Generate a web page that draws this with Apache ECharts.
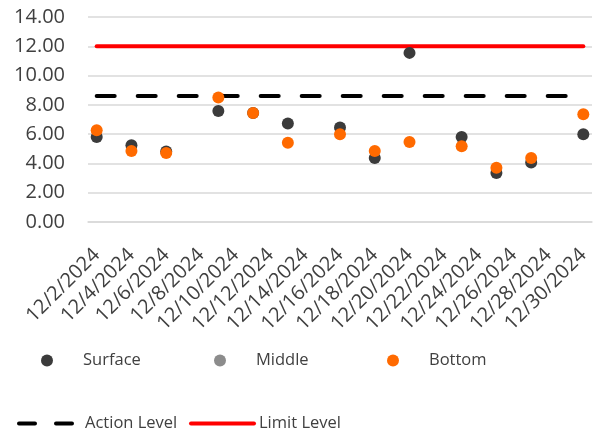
<!DOCTYPE html>
<html>
<head>
<meta charset="utf-8">
<script src="https://cdn.jsdelivr.net/npm/echarts@6/dist/echarts.min.js"></script>
<style>
html, body { margin: 0; padding: 0; background: #fff; }
#main { width: 593px; height: 433px; }
</style>
</head>
<body>
<div id="main"></div>
<script>
// axis days (labels shown every other day)
var days = ['12/2/2024','12/3/2024','12/4/2024','12/5/2024','12/6/2024','12/7/2024','12/8/2024',
	'12/9/2024','12/10/2024','12/11/2024','12/12/2024','12/13/2024','12/14/2024','12/15/2024',
	'12/16/2024','12/17/2024','12/18/2024','12/19/2024','12/20/2024','12/21/2024','12/22/2024',
	'12/23/2024','12/24/2024','12/25/2024','12/26/2024','12/27/2024','12/28/2024','12/29/2024','12/30/2024'];

// sampling days
var sampleDays = ['12/2/2024','12/4/2024','12/6/2024','12/9/2024','12/11/2024','12/13/2024',
	'12/16/2024','12/18/2024','12/20/2024','12/23/2024','12/25/2024','12/27/2024','12/30/2024'];
var surface = [5.80, 5.24, 4.82, 7.58, 7.45, 6.72, 6.45, 4.37, 11.55, 5.81, 3.35, 4.06, 5.99];
var middle  = [];
var bottom  = [6.26, 4.85, 4.71, 8.50, 7.45, 5.42, 5.99, 4.85, 5.47, 5.17, 3.71, 4.37, 7.36];

var actionLevel = 8.6;
var limitLevel = 12;

function pairs(vals) {
	var out = [];
	for (var i = 0; i < vals.length; i++) {
		out.push([sampleDays[i], vals[i]]);
	}
	return out;
}
function flat(v) {
	return [[days[0], v], [days[days.length - 1], v]];
}

var dom = document.getElementById("main");
var myChart = echarts.init(dom);
var font = '"Open Sans", sans-serif';

var legendBase = {
	orient: 'horizontal',
	padding: 0,
	itemHeight: 12,
	textStyle: { fontFamily: font, fontSize: 16.5, color: '#404040' },
	selectedMode: false
};
function legendAt(name, left, top, extra) {
	var l = Object.assign({}, legendBase, { data: [name], left: left, top: top }, extra || {});
	return l;
}
var noDot = { color: 'rgba(0,0,0,0)', borderColor: 'rgba(0,0,0,0)', borderWidth: 0 };

var option = {
	animation: false,
	grid: { left: 88, right: 1, top: 17, bottom: 211, containLabel: false },
	legend: [
		legendAt('Surface', 41, 352, { itemWidth: 62, icon: 'circle' }),
		legendAt('Middle', 214, 352, { itemWidth: 62, icon: 'circle' }),
		legendAt('Bottom', 387, 352, { itemWidth: 62, icon: 'circle' }),
		legendAt('Action Level', 15, 415, {
			itemWidth: 57,
			itemStyle: noDot,
			lineStyle: { width: 4, type: [16, 21], dashOffset: -2, cap: 'round' },
			textStyle: { fontFamily: font, fontSize: 16.5, color: '#404040', padding: [0, 0, 0, 6] }
		}),
		legendAt('Limit Level', 189, 415, {
			itemWidth: 63,
			itemStyle: noDot,
			lineStyle: { width: 4, cap: 'round' }
		})
	],
	xAxis: {
		type: 'category',
		data: days,
		boundaryGap: true,
		axisLine: { lineStyle: { color: '#d9d9d9', width: 1.5 } },
		axisTick: { show: false },
		axisLabel: {
			interval: 1,
			rotate: 45,
			margin: 30,
			fontFamily: font,
			fontSize: 20,
			color: '#404040'
		}
	},
	yAxis: {
		type: 'value',
		min: 0,
		max: 14,
		interval: 2,
		axisLine: { show: false },
		axisTick: { show: false },
		splitLine: { lineStyle: { color: '#d9d9d9', width: 1.5 } },
		axisLabel: {
			margin: 23,
			fontFamily: font,
			fontSize: 20,
			color: '#404040',
			formatter: function (v) { return v.toFixed(2); }
		}
	},
	series: [
		{
			name: 'Action Level',
			type: 'line',
			symbol: 'none',
			z: 1,
			data: flat(actionLevel),
			lineStyle: { color: '#000000', width: 4, type: [18, 23], cap: 'round' },
			itemStyle: { color: '#000000' }
		},
		{
			name: 'Limit Level',
			type: 'line',
			symbol: 'none',
			z: 1,
			data: flat(limitLevel),
			lineStyle: { color: '#ff0000', width: 4, cap: 'round' },
			itemStyle: { color: '#ff0000' }
		},
		{
			name: 'Surface',
			type: 'scatter',
			symbolSize: 12,
			z: 3,
			itemStyle: { color: '#3b3b3b', opacity: 1 },
			data: pairs(surface)
		},
		{
			name: 'Middle',
			type: 'scatter',
			symbolSize: 12,
			z: 3,
			itemStyle: { color: '#8c8c8c', opacity: 1 },
			data: pairs(middle)
		},
		{
			name: 'Bottom',
			type: 'scatter',
			symbolSize: 12,
			z: 4,
			itemStyle: { color: '#ff6a00', opacity: 1 },
			data: pairs(bottom)
		}
	]
};
myChart.setOption(option, true);
</script>
</body>
</html>
